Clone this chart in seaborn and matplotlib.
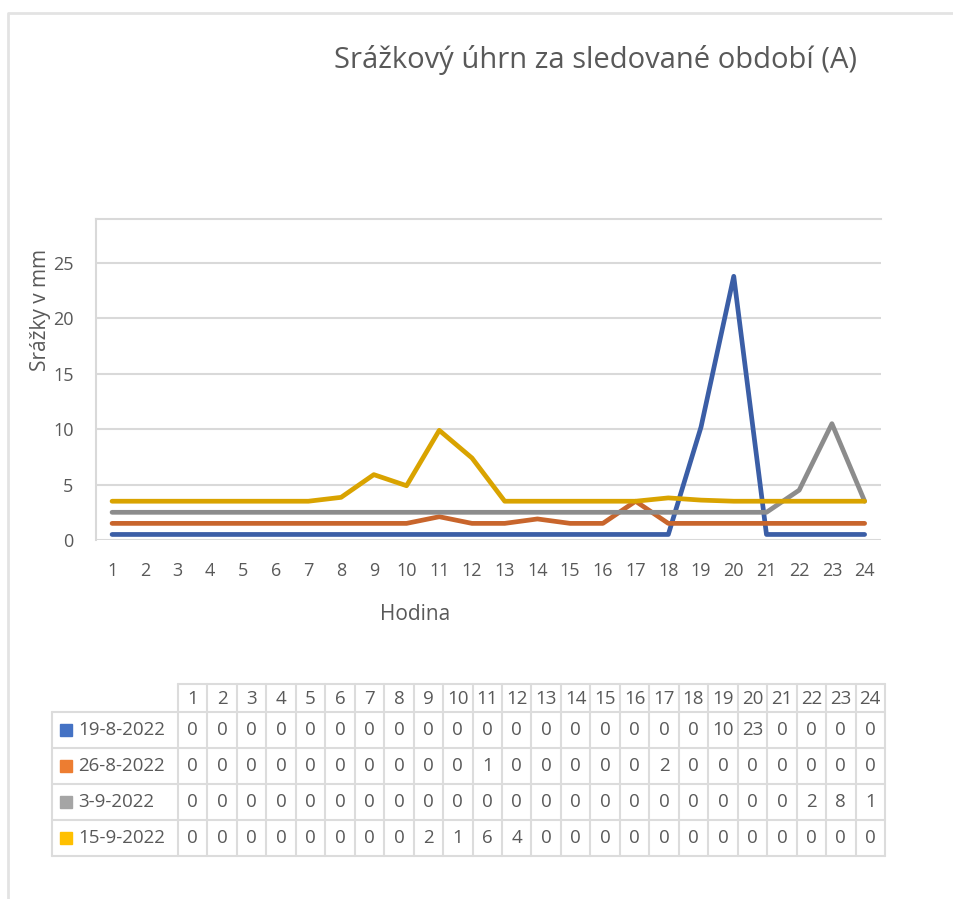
import numpy as np
import pandas as pd
import matplotlib.pyplot as plt
import seaborn as sns

# Data - hodinove srazky (mm)
hodiny = list(range(1, 25))
serie = ['19-8-2022', '26-8-2022', '3-9-2022', '15-9-2022']

srazky_19_8 = [0, 0, 0, 0, 0, 0, 0, 0, 0, 0, 0, 0, 0, 0, 0, 0, 0, 0, 9.7, 23.3, 0, 0, 0, 0]
srazky_26_8 = [0, 0, 0, 0, 0, 0, 0, 0, 0, 0, 0.6, 0, 0, 0.4, 0, 0, 2.0, 0, 0, 0, 0, 0, 0, 0]
srazky_3_9 = [0, 0, 0, 0, 0, 0, 0, 0, 0, 0, 0, 0, 0, 0, 0, 0, 0, 0, 0, 0, 0, 2, 8, 1]
srazky_15_9 = [0, 0, 0, 0, 0, 0, 0, 0.35, 2.4, 1.4, 6.4, 3.9, 0, 0, 0, 0, 0, 0.3, 0.1, 0, 0, 0, 0, 0]

# posun car v grafu (linie jsou v puvodnim grafu odsazene)
posun = [0.5, 1.5, 2.5, 3.5]

barvy_car = ['#3b5ea6', '#c8652c', '#8c8c8c', '#d9a300']
barvy_legendy = ['#4472C4', '#ED7D31', '#A5A5A5', '#FFC000']

hodnoty = [srazky_19_8, srazky_26_8, srazky_3_9, srazky_15_9]

# Long-form tabulka pro seaborn
radky = []
for nazev, vals, p in zip(serie, hodnoty, posun):
    for h, v in zip(hodiny, vals):
        radky.append({'Hodina': h, 'Srazky': v + p, 'Serie': nazev})
df = pd.DataFrame(radky)

sns.set_style('white')
plt.rcParams['font.family'] = ['Open Sans', 'DejaVu Sans']
sedy_text = '#595959'

fig = plt.figure(figsize=(9.54, 8.99), dpi=100)

# ram a tabulka v pixelovych souradnicich
axf = fig.add_axes([0, 0, 1, 1])
axf.set_xlim(0, 954)
axf.set_ylim(899, 0)
axf.axis('off')
axf.plot([8, 8, 954], [899, 13, 13], color='#e3e3e3', lw=2)

# hlavni graf
ax = fig.add_axes([95.7 / 954, 359 / 899, 785.3 / 954, 321.3 / 899])
sns.lineplot(data=df, x='Hodina', y='Srazky', hue='Serie', hue_order=serie,
             palette=barvy_car, lw=3.4, ax=ax, legend=False)
ax.set_xlim(0.5, 24.5)
ax.set_ylim(0, 29)
ax.set_xticks(hodiny)
ax.set_yticks([0, 5, 10, 15, 20, 25])
ax.grid(axis='y', color='#d9d9d9', lw=1.5)
ax.set_axisbelow(True)
for s in ['right', 'bottom']:
    ax.spines[s].set_visible(False)
ax.spines['top'].set_color('#d9d9d9')
ax.spines['top'].set_linewidth(1.5)
ax.spines['left'].set_color('#d9d9d9')
ax.spines['left'].set_linewidth(1.5)
ax.tick_params(axis='both', length=0, labelsize=13, labelcolor=sedy_text)
ax.tick_params(axis='y', pad=16)
ax.tick_params(axis='x', pad=16)
ax.set_xlabel('')
ax.set_ylabel('')

fig.text(595 / 954, 1 - 60 / 899, 'Srážkový úhrn za sledované období (A)',
         ha='center', va='center', fontsize=21, color=sedy_text)
fig.text(415 / 954, 1 - 614 / 899, 'Hodina', ha='center', va='center',
         fontsize=15, color=sedy_text)
fig.text(41 / 954, 1 - 310 / 899, 'Srážky v mm', ha='center', va='center',
         rotation=90, fontsize=15, color=sedy_text)

# datova tabulka pod grafem
t_left, t_lab, t_right = 52, 178, 885
col_w = (t_right - t_lab) / 24
y_head, y_rows = 684, 712
row_h = 36
y_bot = y_rows + row_h * 4
cara = dict(color='#dcdcdc', lw=1.5)

axf.plot([t_lab, t_right], [y_head, y_head], **cara)
for i in range(5):
    y = y_rows + i * row_h
    axf.plot([t_left, t_right], [y, y], **cara)
axf.plot([t_left, t_left], [y_rows, y_bot], **cara)
for j in range(25):
    x = t_lab + j * col_w
    axf.plot([x, x], [y_head, y_bot], **cara)

for j, h in enumerate(hodiny):
    axf.text(t_lab + (j + 0.5) * col_w, (y_head + y_rows) / 2 + 1, str(h),
             ha='center', va='center', fontsize=13.5, color=sedy_text)

for i, (nazev, vals) in enumerate(zip(serie, hodnoty)):
    yc = y_rows + (i + 0.5) * row_h
    axf.add_patch(plt.Rectangle((60, yc - 6), 12, 12, color=barvy_legendy[i]))
    axf.text(78, yc, nazev, ha='left', va='center', fontsize=13.5, color=sedy_text)
    for j, v in enumerate(vals):
        axf.text(t_lab + (j + 0.5) * col_w, yc, f'{v:.0f}', ha='center', va='center',
                 fontsize=13.5, color=sedy_text)

plt.savefig('out.png', dpi=100)
